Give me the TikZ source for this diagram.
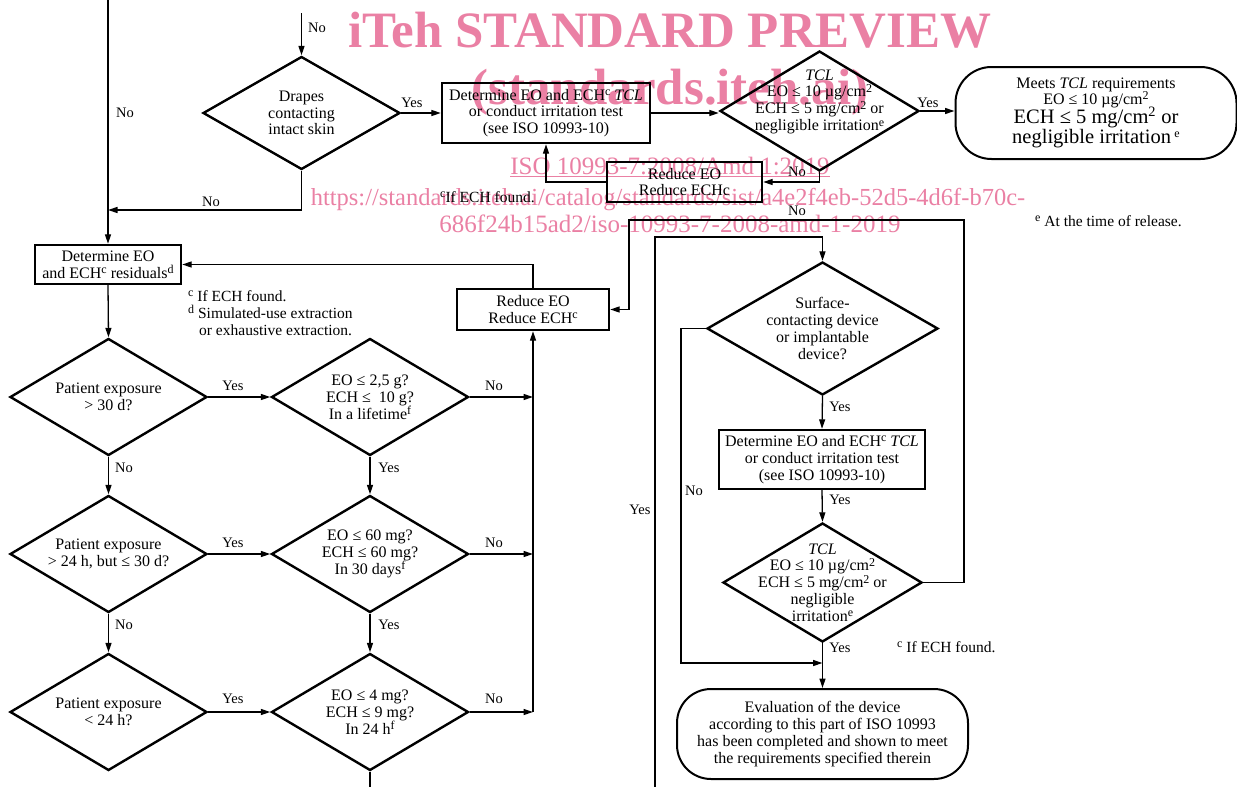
\documentclass[tikz,border=0pt]{standalone}
\usepackage{fontspec}
\setmainfont{Liberation Serif}
\usetikzlibrary{shapes.geometric,arrows.meta,calc}
\definecolor{wm}{RGB}{234,128,164}
\newcommand{\sz}[2]{\fontsize{#1}{#2}\selectfont}
\newcommand{\sups}[1]{\raisebox{0.62ex}{\sz{12}{12}#1}}
\begin{document}
\begin{tikzpicture}[x=1pt,y=-1pt,
  every node/.style={font=\sz{16}{16.8}},
  dia/.style={draw,line width=2.4pt,diamond,shape aspect=1.7,inner sep=-16pt,align=center,minimum width=197pt,minimum height=117pt},
  box/.style={draw,line width=2.4pt,rectangle,inner sep=0pt,align=center},
  term/.style={draw,line width=2pt,rectangle,rounded corners=34pt,inner sep=0pt,align=center},
  conn/.style={line width=1.3pt,-{Triangle[length=9.5pt,width=6pt]}},
  wire/.style={line width=1.3pt},
  lbl/.style={inner sep=0pt,font=\sz{14.5}{16}},
  wmark/.style={text=wm,inner sep=0pt,anchor=base},
  note/.style={inner sep=0pt,anchor=base west,font=\sz{15.5}{16}},
]
\useasboundingbox (0,0) rectangle (1237,787);
% watermark
\node[wmark,font=\sz{51}{51}\bfseries] (w1) at (670,47) {iTeh STANDARD PREVIEW};
\node[wmark,font=\sz{51}{51}\bfseries] (w2) at (670,104) {(standards.iteh.ai)};
\node[wmark,font=\sz{25}{25}] (w3) at (670,174) {\underline{ISO 10993-7:2008/Amd 1:2019}};
\node[wmark,font=\sz{24.5}{25}] (w4) at (668,205) {https://standards.iteh.ai/catalog/standards/sist/a4e2f4eb-52d5-4d6f-b70c-};
\node[wmark,font=\sz{25}{25}] (w5) at (670,232) {686f24b15ad2/iso-10993-7-2008-amd-1-2019};

% top row
\node[dia,minimum height=113pt] (drapes) at (301.5,113) {Drapes\\contacting\\intact skin};
\node[box,minimum width=208pt,minimum height=60pt] (det1) at (546,113) {Determine EO and ECH\sups{c} \textit{TCL}\\or conduct irritation test\\(see ISO 10993-10)};
\node[dia,minimum width=199pt,minimum height=120pt] (tcl1) at (819.5,111) {\textit{TCL}\\EO ≤ 10 µg/cm\sups{2}\\ECH ≤ 5 mg/cm\sups{2} or\\negligible irritation\sups{e}\\\strut};
\node[term,minimum width=281pt,minimum height=92pt,rounded corners=36pt] (meets) at (1096,113) {Meets \textit{TCL} requirements\\[-1pt]EO ≤ 10 µg/cm\sups{2}\\[-2pt]{\sz{20.5}{22}ECH ≤ 5 mg/cm\textsuperscript{2} or}\\{\sz{20.5}{22}negligible irritation\,\sups{e}}};
\node[box,minimum width=155pt,minimum height=40pt] (red1) at (684.5,182) {Reduce EO\\Reduce ECHc};

% left column
\node[box,minimum width=146pt,minimum height=39pt] (det2) at (108,264.5) {Determine EO\\and ECH\sups{c} residuals\sups{d}};
\node[box,minimum width=152pt,minimum height=41pt] (red2) at (533,309.5) {Reduce EO\\Reduce ECH\sups{c}};
\node[dia] (p1) at (108.5,397) {Patient exposure\\> 30 d?};
\node[dia] (q1) at (370,397) {EO ≤ 2,5 g?\\ECH ≤\ \ 10 g?\\In a lifetime\sups{f}};
\node[dia] (p2) at (108.5,554) {Patient exposure\\> 24 h, but ≤ 30 d?};
\node[dia] (q2) at (370,554) {EO ≤ 60 mg?\\ECH ≤ 60 mg?\\In 30 days\sups{f}};
\node[dia] (p3) at (108.5,712) {Patient exposure\\< 24 h?};
\node[dia] (q3) at (370,712) {EO ≤ 4 mg?\\ECH ≤ 9 mg?\\In 24 h\sups{f}};

% right column
\node[dia,minimum width=231pt,minimum height=133pt] (surf) at (822.5,328.5) {Surface-\\contacting device\\or implantable\\device?};
\node[box,minimum width=206pt,minimum height=59pt] (det3) at (822,459.5) {Determine EO and ECH\sups{c} \textit{TCL}\\or conduct irritation test\\(see ISO 10993-10)};
\node[dia,minimum width=199pt,minimum height=119pt] (tcl2) at (822.5,582.5) {\textit{TCL}\\EO ≤ 10 µg/cm\sups{2}\\ECH ≤ 5 mg/cm\sups{2} or\\negligible\\irritation\sups{e}};
\node[term,minimum width=291pt,minimum height=90pt] (eval) at (822.5,734) {Evaluation of the device\\according to this part of ISO 10993\\has been completed and shown to meet\\the requirements specified therein};

% free ends
\coordinate (a0) at (108,0);
\coordinate (d0) at (301.5,13);
\coordinate (j1) at (108,210);
\coordinate (r1) at (533,397);
\coordinate (r2) at (533,554);
\coordinate (r3) at (533,712);
\coordinate (qb) at (370,787);
\coordinate (y0) at (655,787);
\coordinate (y1) at (655,237);
\coordinate (n1) at (681,663);
\coordinate (k1) at (964,220);
\coordinate (k2) at (629,220);

% connectors
\draw[conn] (a0) -- (det2.north);
\draw[conn] (d0) -- (drapes.north);
\draw[conn] (drapes.south) |- (j1);
\draw[conn] (drapes.east) -- (det1.west);
\draw[conn] (det1.east) -- (det1.east -| tcl1.west);
\draw[conn] (tcl1.east) -- (tcl1.east -| meets.west);
\draw[conn] (tcl1.south) |- (red1.east);
\draw[conn] (red1.west) -| (det1.south);
\draw[conn] (det2.south) -- (p1.north);
\draw[conn] (red2.north) |- (det2.east);
\draw[conn] (p1.east) -- (q1.west);
\draw[conn] (p2.east) -- (q2.west);
\draw[conn] (p3.east) -- (q3.west);
\draw[conn] (q1.east) -- (r1);
\draw[conn] (q2.east) -- (r2);
\draw[conn] (q3.east) -- (r3);
\draw[conn] (r3) -- (red2.south);
\draw[conn] (p1.south) -- (p2.north);
\draw[conn] (p2.south) -- (p3.north);
\draw[conn] (q1.south) -- (q2.north);
\draw[conn] (q2.south) -- (q3.north);
\draw[wire] (q3.south) -- (qb);
\draw[conn] (y0) -- (y1) -| (surf.north);
\draw[conn] (surf.west) -| (n1) -- (n1 -| eval.north);
\draw[conn] (surf.south) -- (det3.north);
\draw[conn] (det3.south) -- (tcl2.north);
\draw[conn] (tcl2.south) -- (eval.north);
\draw[conn] (tcl2.east) -| (k1) -- (k2) |- (red2.east);

% labels
\node[lbl] at (317,28) {No};
\node[lbl] at (125,113) {No};
\node[lbl] at (211,202) {No};
\node[lbl] at (412,103) {Yes};
\node[lbl] at (928,103) {Yes};
\node[lbl] at (797,172) {No};
\node[lbl] at (797,211) {No};
\node[lbl] at (233,386) {Yes};
\node[lbl] at (494,386) {No};
\node[lbl] at (124,468) {No};
\node[lbl] at (389,468) {Yes};
\node[lbl] at (233,543) {Yes};
\node[lbl] at (494,543) {No};
\node[lbl] at (124,625) {No};
\node[lbl] at (389,625) {Yes};
\node[lbl] at (233,699) {Yes};
\node[lbl] at (494,699) {No};
\node[lbl] at (640,510) {Yes};
\node[lbl] at (694,491) {No};
\node[lbl] at (840,407) {Yes};
\node[lbl] at (840,500) {Yes};
\node[lbl] at (840,648) {Yes};

% footnotes
\node[note] (f1) at (440,202) {\sups{c}If ECH found.};
\node[note] (f2) at (188,301) {\sups{c} If ECH found.};
\node[note] (f3) at (188,318) {\sups{d} Simulated-use extraction};
\node[note] (f4) at (199,335) {or exhaustive extraction.};
\node[note] (f5) at (1035,226) {\sups{e} At the time of release.};
\node[note] (f6) at (897,652) {\sups{c} If ECH found.};
\end{tikzpicture}
\end{document}
